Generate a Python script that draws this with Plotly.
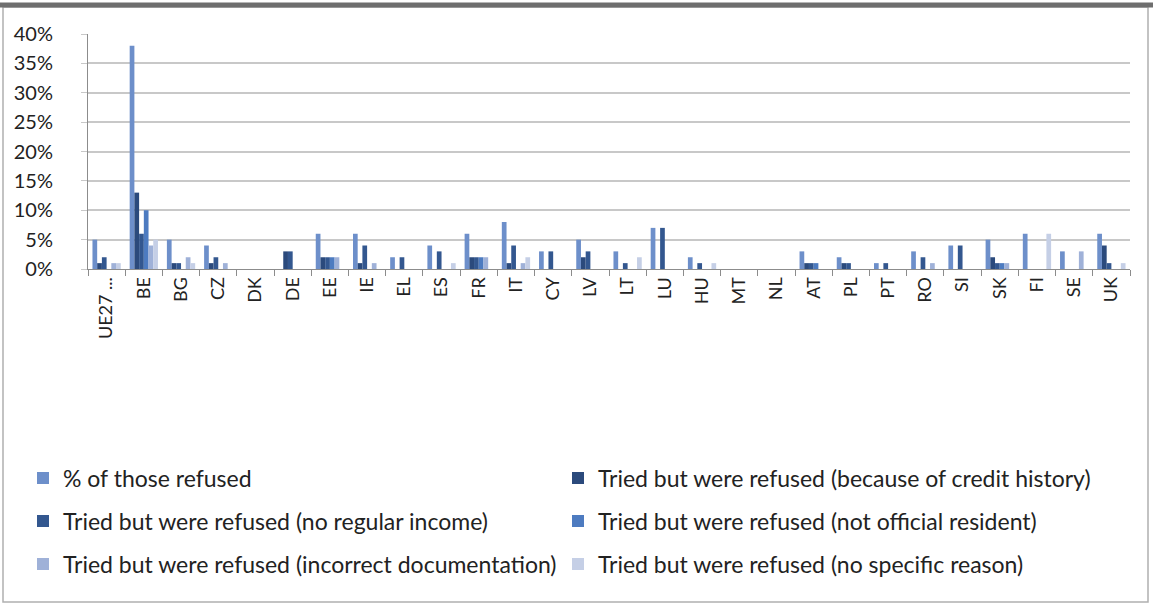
import plotly.graph_objects as go

countries = ["UE27 ...", "BE", "BG", "CZ", "DK", "DE", "EE", "IE", "EL", "ES", "FR", "IT", "CY", "LV",
             "LT", "LU", "HU", "MT", "NL", "AT", "PL", "PT", "RO", "SI", "SK", "FI", "SE", "UK"]

series_names = [
    "% of those refused",
    "Tried but were refused (because of credit history)",
    "Tried but were refused (no regular income)",
    "Tried but were refused (not official resident)",
    "Tried but were refused (incorrect documentation)",
    "Tried but were refused (no specific reason)",
]

pct_refused      = [5, 38, 5, 4, 0, 0, 6, 6, 2, 4, 6, 8, 3, 5, 3, 7, 2, 0, 0, 3, 2, 1, 3, 4, 5, 6, 3, 6]
credit_history   = [1, 13, 1, 1, 0, 3, 2, 1, 0, 0, 2, 1, 0, 2, 0, 0, 0, 0, 0, 1, 1, 0, 0, 0, 2, 0, 0, 4]
no_income        = [2, 6, 1, 2, 0, 3, 2, 4, 2, 3, 2, 4, 3, 3, 1, 7, 1, 0, 0, 1, 1, 1, 2, 4, 1, 0, 0, 1]
not_resident     = [0, 10, 0, 0, 0, 0, 2, 0, 0, 0, 2, 0, 0, 0, 0, 0, 0, 0, 0, 1, 0, 0, 0, 0, 1, 0, 0, 0]
incorrect_docs   = [1, 4, 2, 1, 0, 0, 2, 1, 0, 0, 2, 1, 0, 0, 0, 0, 0, 0, 0, 0, 0, 0, 1, 0, 1, 0, 3, 0]
no_reason        = [1, 5, 1, 0, 0, 0, 0, 0, 0, 1, 0, 2, 0, 0, 2, 0, 1, 0, 0, 0, 0, 0, 0, 0, 0, 6, 0, 1]

all_values = [pct_refused, credit_history, no_income, not_resident, incorrect_docs, no_reason]
colors = ["#6d8fca", "#2b4a7c", "#33578f", "#4d7bc0", "#9fb1d8", "#c5cfe6"]

W, H = 1153, 603
ml, mr, mt, mb = 88, 23, 34, 334

def ypaper(py):
    return (H - mb - py) / (H - mt - mb)

def xpaper(px):
    return (px - ml) / (W - ml - mr)

# legend slot positions (pixel) for each series: left column / right column, three rows
legend_px = [(23, 478), (558, 478), (23, 521), (558, 521), (23, 564), (558, 564)]

font_family = "Lato, 'Open Sans', sans-serif"

fig = go.Figure()
layout_legends = {}
for i, (name, vals, col) in enumerate(zip(series_names, all_values, colors)):
    lid = "legend" if i == 0 else f"legend{i + 1}"
    fig.add_trace(go.Bar(
        x=countries, y=[v / 100 for v in vals], name=name,
        marker=dict(color=col, line=dict(width=0)), legend=lid,
    ))
    px, py = legend_px[i]
    layout_legends[lid] = dict(
        x=xpaper(px), y=ypaper(py), xanchor="left", yanchor="middle",
        orientation="h", bgcolor="rgba(0,0,0,0)", itemwidth=30,
        font=dict(size=23, color="#222", family=font_family),
    )

fig.update_layout(
    width=W, height=H,
    margin=dict(l=ml, r=mr, t=mt, b=mb, autoexpand=False),
    paper_bgcolor="white", plot_bgcolor="white",
    barmode="group", bargap=0.24, bargroupgap=0,
    font=dict(family=font_family, color="#222"),
    xaxis=dict(type="category", tickangle=-90, tickfont=dict(size=18, color="#222"),
               showline=True, linecolor="#8c8c8c", linewidth=1,
               ticks="outside", tickson="boundaries", ticklen=6, tickcolor="#8c8c8c",
               showgrid=False),
    yaxis=dict(range=[0, 0.40], dtick=0.05, tickformat=".0%", tickfont=dict(size=20, color="#222"),
               showgrid=True, gridcolor="#c8c8c8", gridwidth=2,
               showline=True, linecolor="#8c8c8c", linewidth=1,
               ticks="outside", ticklen=6, tickcolor="#c8c8c8", zeroline=False,
               ticklabelstandoff=24),
    showlegend=True,
    **layout_legends,
)

# outer chart frame
fig.add_shape(type="rect", xref="paper", yref="paper",
              x0=xpaper(3), x1=xpaper(1148), y0=ypaper(602), y1=ypaper(7),
              line=dict(color="#b0b0b0", width=1.5), fillcolor="rgba(0,0,0,0)", layer="below")
fig.add_shape(type="line", xref="paper", yref="paper",
              x0=xpaper(0), x1=xpaper(1153), y0=ypaper(5), y1=ypaper(5),
              line=dict(color="#6e6e6e", width=5))

fig.write_html("out.html", config={"displayModeBar": False},
               post_script="document.body.style.margin='0px';")
